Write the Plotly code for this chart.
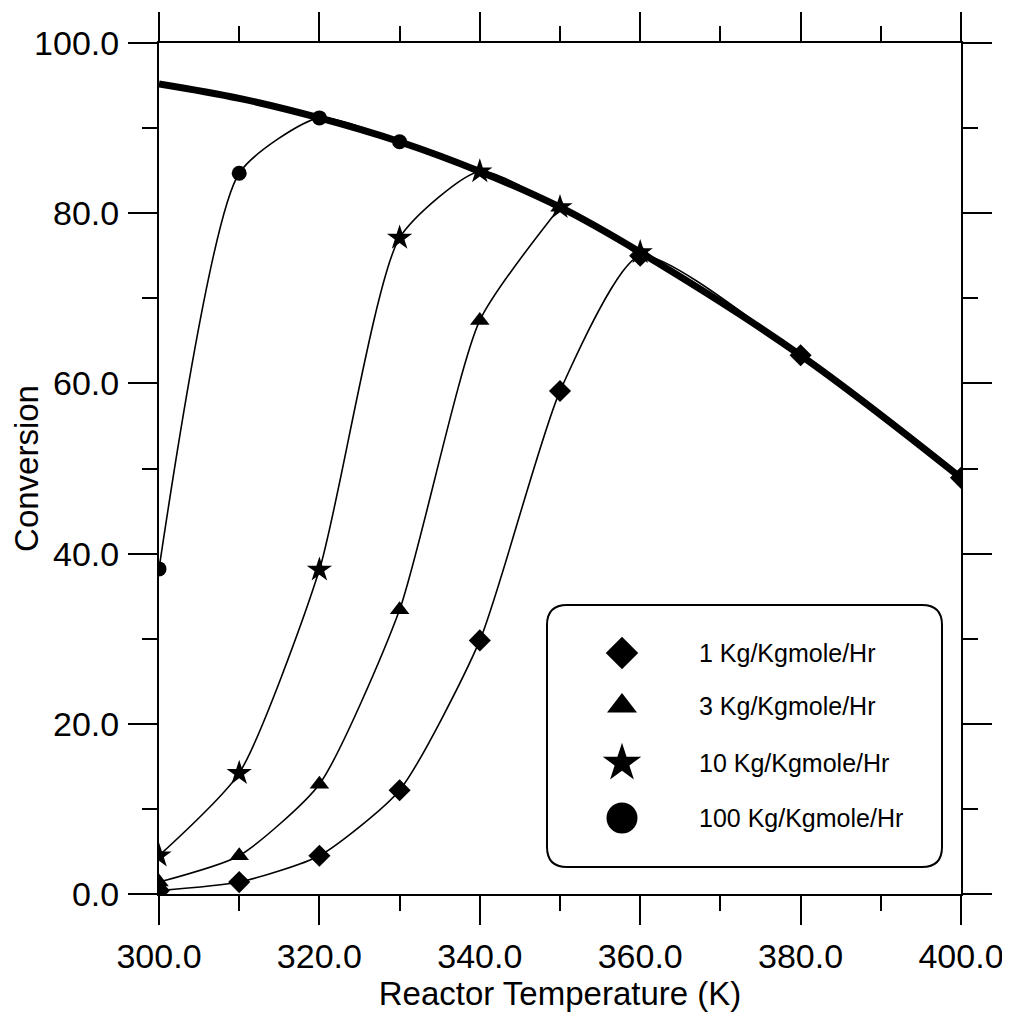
import plotly.graph_objects as go

# ---- data ----
temps_eq = [300, 310, 320, 330, 340, 350, 360, 380, 400]
conv_eq = [95.2, 93.5, 91.2, 88.4, 84.9, 80.7, 75.4, 63.3, 48.9]

temps_1 = [300, 310, 320, 330, 340, 350, 360, 380, 400]
conv_1 = [0.4, 1.4, 4.5, 12.2, 29.8, 59.1, 75.0, 63.3, 48.9]

temps_3 = [300, 310, 320, 330, 340, 350]
conv_3 = [1.4, 4.5, 12.9, 33.4, 67.4, 80.7]

temps_10 = [300, 310, 320, 330, 340, 350, 360]
conv_10 = [4.5, 14.2, 38.1, 77.1, 84.9, 80.7, 75.4]

temps_100 = [300, 310, 320, 330]
conv_100 = [38.2, 84.7, 91.2, 88.4]

legend_labels = ["1 Kg/Kgmole/Hr", "3 Kg/Kgmole/Hr", "10 Kg/Kgmole/Hr", "100 Kg/Kgmole/Hr"]
legend_symbols = ["diamond", "triangle-up", "star", "circle"]

FONT = "Liberation Sans, Arial, Helvetica, sans-serif"

fig = go.Figure()

series = [
    (temps_1, conv_1, "diamond", 17),
    (temps_3, conv_3, "triangle-up", 17),
    (temps_10, conv_10, "star", 19),
    (temps_100, conv_100, "circle", 15),
]

# thin connecting curves (below the thick equilibrium curve)
for (xs, ys, sym, sz), name in zip(series, legend_labels):
    fig.add_trace(go.Scatter(x=xs, y=ys, mode="lines", name=name,
                             line=dict(color="black", width=1.6, shape="spline", smoothing=0.6),
                             showlegend=False, hoverinfo="skip"))

# thick equilibrium curve
fig.add_trace(go.Scatter(x=temps_eq, y=conv_eq, mode="lines",
                         line=dict(color="black", width=7, shape="spline"),
                         showlegend=False))

# markers on top
for (xs, ys, sym, sz), name in zip(series, legend_labels):
    fig.add_trace(go.Scatter(x=xs, y=ys, mode="markers", name=name,
                             marker=dict(symbol=sym, size=sz, color="black", opacity=1,
                                         line=dict(width=0, color="black")),
                             showlegend=False))

# ---- layout geometry (page has an 8px body margin) ----
PAGE_OFF = 8
W, H = 1010 - PAGE_OFF, 1020 - PAGE_OFF
L0, L1 = 159 - PAGE_OFF, 961 - PAGE_OFF
T0, B0 = 43 - PAGE_OFF, 894 - PAGE_OFF


def px(x):
    return (x - PAGE_OFF - L0) / (L1 - L0)


def py(y):
    return (B0 - (y - PAGE_OFF)) / (B0 - T0)


# ---- custom legend (larger symbols, rounded box) ----
row_y = [653, 706, 763, 818]
fig.add_trace(go.Scatter(x=[px(622)] * 4, y=[py(v) for v in row_y], mode="markers",
                         xaxis="x2", yaxis="y2",
                         marker=dict(symbol=legend_symbols, size=[25, 26, 29, 31], color="black",
                                     opacity=1, line=dict(width=0, color="black")),
                         showlegend=False, hoverinfo="skip"))
for lab, yv in zip(legend_labels, row_y):
    fig.add_annotation(x=px(697), y=py(yv), xref="paper", yref="paper", text=lab,
                       showarrow=False, xanchor="left", yanchor="middle",
                       font=dict(family=FONT, size=25, color="black"))

x0, x1, y0, y1 = px(547), px(942), py(867), py(605)
rx, ry = 20 / (L1 - L0), 20 / (B0 - T0)
path = (f"M {x0+rx},{y0} L {x1-rx},{y0} Q {x1},{y0} {x1},{y0+ry} "
        f"L {x1},{y1-ry} Q {x1},{y1} {x1-rx},{y1} L {x0+rx},{y1} "
        f"Q {x0},{y1} {x0},{y1-ry} L {x0},{y0+ry} Q {x0},{y0} {x0+rx},{y0} Z")
fig.add_shape(type="path", path=path, xref="paper", yref="paper",
              line=dict(color="black", width=2), fillcolor="white", layer="below")

axis_common = dict(
    showgrid=False, zeroline=False, showline=True, linecolor="black", linewidth=2,
    mirror="ticks", ticks="outside", ticklen=29, tickwidth=1.5, tickcolor="black",
    tickformat=".1f", tickfont=dict(family=FONT, size=34, color="black"),
    automargin=False,
)

fig.update_layout(
    width=W, height=H,
    margin=dict(l=L0, r=W - L1, t=T0, b=H - B0),
    paper_bgcolor="white", plot_bgcolor="white",
    font=dict(family=FONT, color="black"),
    xaxis=dict(range=[300, 400], tick0=300, dtick=20,
               minor=dict(dtick=10, ticklen=15, tickwidth=1.5, tickcolor="black", ticks="outside"),
               ticklabelstandoff=2,
               title=dict(text="Reactor Temperature (K)", font=dict(family=FONT, size=33), standoff=4),
               **axis_common),
    yaxis=dict(range=[0, 100], tick0=0, dtick=20,
               minor=dict(dtick=10, ticklen=15, tickwidth=1.5, tickcolor="black", ticks="outside"),
               ticklabelstandoff=2,
               title=dict(text="Conversion", font=dict(family=FONT, size=33), standoff=4),
               **axis_common),
    xaxis2=dict(overlaying="x", range=[0, 1], visible=False),
    yaxis2=dict(overlaying="y", range=[0, 1], visible=False),
    showlegend=False,
)

fig.write_html("out.html")
